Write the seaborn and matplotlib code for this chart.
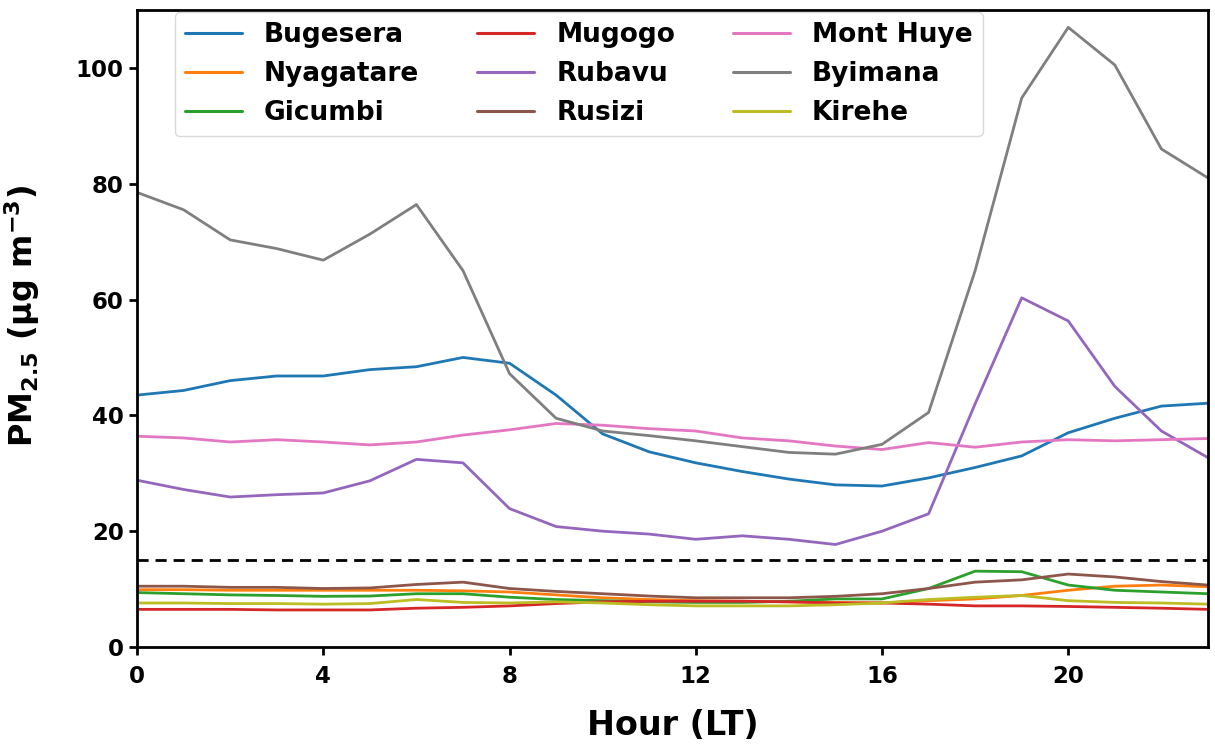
import numpy as np
import pandas as pd
import matplotlib
matplotlib.use("Agg")
import matplotlib.pyplot as plt
import seaborn as sns

hours = list(range(24))

bugesera = [43.5, 44.3, 46.0, 46.8, 46.8, 47.9, 48.4, 50.0, 49.0, 43.5, 36.8, 33.7,
            31.8, 30.3, 29.0, 28.0, 27.8, 29.2, 31.0, 33.0, 37.0, 39.5, 41.6, 42.1]
nyagatare = [9.9, 9.9, 9.8, 9.8, 9.8, 9.8, 9.8, 9.7, 9.5, 9.0, 8.5, 8.2,
             8.0, 7.9, 7.8, 7.7, 7.6, 8.0, 8.3, 8.9, 9.8, 10.5, 10.7, 10.4]
gicumbi = [9.4, 9.2, 9.0, 8.9, 8.75, 8.8, 9.2, 9.2, 8.6, 8.2, 8.0, 7.8,
           7.7, 7.7, 7.9, 8.3, 8.3, 10.1, 13.1, 13.0, 10.7, 9.8, 9.5, 9.2]
mugogo = [6.5, 6.5, 6.5, 6.4, 6.4, 6.4, 6.7, 6.85, 7.1, 7.5, 7.8, 7.9,
          7.9, 7.9, 7.8, 7.6, 7.6, 7.4, 7.1, 7.1, 7.0, 6.85, 6.7, 6.5]
rubavu = [28.8, 27.2, 25.9, 26.3, 26.6, 28.7, 32.4, 31.8, 23.9, 20.8, 20.0, 19.5,
          18.6, 19.2, 18.6, 17.7, 20.0, 23.0, 42.0, 60.3, 56.3, 45.0, 37.3, 32.7]
rusizi = [10.5, 10.5, 10.3, 10.3, 10.1, 10.2, 10.8, 11.2, 10.1, 9.6, 9.2, 8.8,
          8.5, 8.5, 8.5, 8.75, 9.2, 10.1, 11.2, 11.6, 12.6, 12.1, 11.3, 10.7]
mont_huye = [36.4, 36.1, 35.4, 35.8, 35.4, 34.9, 35.4, 36.6, 37.5, 38.6, 38.3, 37.7,
             37.3, 36.1, 35.6, 34.7, 34.1, 35.3, 34.5, 35.4, 35.8, 35.6, 35.8, 36.0]
byimana = [78.5, 75.5, 70.3, 68.8, 66.8, 71.3, 76.4, 65.0, 47.2, 39.5, 37.3, 36.5,
           35.6, 34.6, 33.6, 33.3, 35.0, 40.5, 65.0, 94.8, 107.0, 100.5, 86.0, 81.0]
kirehe = [7.6, 7.6, 7.5, 7.5, 7.4, 7.5, 8.2, 7.7, 7.6, 7.8, 7.6, 7.3,
          7.1, 7.1, 7.1, 7.3, 7.6, 8.2, 8.6, 8.9, 8.0, 7.7, 7.6, 7.4]

sites = ["Bugesera", "Nyagatare", "Gicumbi", "Mugogo", "Rubavu", "Rusizi",
         "Mont Huye", "Byimana", "Kirehe"]
series = [bugesera, nyagatare, gicumbi, mugogo, rubavu, rusizi,
          mont_huye, byimana, kirehe]
who_guideline = 15
xticks = [0, 4, 8, 12, 16, 20]
yticks = [0, 20, 40, 60, 80, 100]

df = pd.DataFrame({
    "hour": np.tile(hours, len(sites)),
    "pm25": np.concatenate(series),
    "site": np.repeat(sites, len(hours)),
})

sns.set_style("ticks")
plt.rcParams["font.family"] = ["DejaVu Sans"]
plt.rcParams["font.weight"] = "bold"
plt.rcParams["axes.labelweight"] = "bold"
for key in ["text.color", "axes.labelcolor", "xtick.color", "ytick.color",
            "axes.edgecolor"]:
    plt.rcParams[key] = "black"

fig = plt.figure(figsize=(12.15, 7.46), dpi=100)
ax = fig.add_axes([0.1128, 0.1327, 0.8814, 0.8539])

sns.lineplot(data=df, x="hour", y="pm25", hue="site", hue_order=sites,
             palette=sns.color_palette("tab10", 9), linewidth=2, ax=ax)
ax.axhline(who_guideline, color="black", linestyle="--", linewidth=2, dashes=(4, 2.5))

ax.set_xlim(0, 23)
ax.set_ylim(0, 110)
ax.set_xticks(xticks)
ax.set_yticks(yticks)
ax.tick_params(axis="both", labelsize=16.5, width=2, length=6, direction="out",
               colors="black")
ax.tick_params(axis="x", pad=7)
for lbl in ax.get_xticklabels() + ax.get_yticklabels():
    lbl.set_fontweight("bold")
for sp in ax.spines.values():
    sp.set_linewidth(2)
    sp.set_color("black")

ax.set_xlabel("Hour (LT)", fontsize=24, fontweight="bold", labelpad=15)
ax.set_ylabel(r"$\mathbf{PM_{2.5}}$ $\mathbf{(\mu g\ m^{-3})}$", fontsize=23,
              fontweight="bold")
ax.yaxis.set_label_coords(-0.0887, 0.52)

leg = ax.legend(ncol=3, loc="upper left", bbox_to_anchor=(0.0355, 0.997),
                borderaxespad=0, prop={"size": 19, "weight": "bold"}, frameon=True,
                handlelength=2.16, handletextpad=0.83, columnspacing=2.2,
                labelspacing=0.5, borderpad=0.38)
leg.get_frame().set_edgecolor("#d0d0d0")
for line in leg.get_lines():
    line.set_linewidth(2.2)

fig.savefig("out.png", dpi=100)
